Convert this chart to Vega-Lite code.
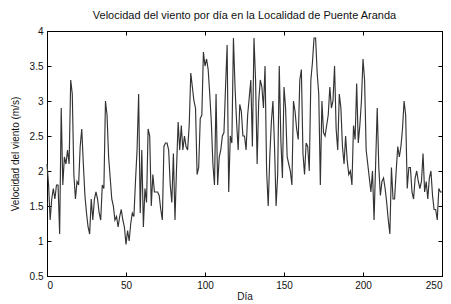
{
  "$schema": "https://vega.github.io/schema/vega-lite/v6.json",
  "width": 395,
  "height": 245,
  "autosize": {"type": "none"},
  "padding": {"left": 47, "top": 31, "right": 9, "bottom": 28},
  "background": "white",
  "title": {"text": "Velocidad del viento por día en la Localidad de Puente Aranda", "fontSize": 11, "fontWeight": "normal", "font": "Liberation Sans", "color": "#111", "offset": 5, "anchor": "middle"},
  "config": {
    "view": {"stroke": "#000", "strokeWidth": 1},
    "axis": {"grid": false, "domainColor": "#000", "tickColor": "#000", "tickSize": -4, "labelPadding": 8, "labelFont": "Liberation Sans", "labelFontSize": 10, "labelColor": "#111", "titleFont": "Liberation Sans", "titleFontSize": 10, "titleFontWeight": "normal", "titleColor": "#111"}
  },
  "data": {"values": [
    {"dia":0,"v":2.1},{"dia":1,"v":1.8},{"dia":2,"v":1.3},{"dia":3,"v":1.6},{"dia":4,"v":1.75},{"dia":5,"v":1.6},{"dia":6,"v":1.8},{"dia":7,"v":1.8},{"dia":8,"v":1.1},{"dia":9,"v":2.9},
    {"dia":10,"v":1.8},{"dia":11,"v":2.2},{"dia":12,"v":2.1},{"dia":13,"v":2.3},{"dia":14,"v":2.1},{"dia":15,"v":3.3},{"dia":16,"v":3.1},{"dia":17,"v":1.95},{"dia":18,"v":1.6},{"dia":19,"v":1.85},
    {"dia":20,"v":1.8},{"dia":21,"v":2.35},{"dia":22,"v":2.6},{"dia":23,"v":2.1},{"dia":24,"v":1.65},{"dia":25,"v":1.4},{"dia":26,"v":1.2},{"dia":27,"v":1.1},{"dia":28,"v":1.6},{"dia":29,"v":1.3},
    {"dia":30,"v":1.6},{"dia":31,"v":1.7},{"dia":32,"v":1.6},{"dia":33,"v":1.4},{"dia":34,"v":1.3},{"dia":35,"v":1.8},{"dia":36,"v":1.75},{"dia":37,"v":3.0},{"dia":38,"v":2.8},{"dia":39,"v":2.2},
    {"dia":40,"v":1.9},{"dia":41,"v":1.6},{"dia":42,"v":1.5},{"dia":43,"v":1.3},{"dia":44,"v":1.35},{"dia":45,"v":1.2},{"dia":46,"v":1.35},{"dia":47,"v":1.45},{"dia":48,"v":1.3},{"dia":49,"v":1.2},
    {"dia":50,"v":0.95},{"dia":51,"v":1.15},{"dia":52,"v":1.0},{"dia":53,"v":1.25},{"dia":54,"v":1.4},{"dia":55,"v":1.35},{"dia":56,"v":1.85},{"dia":57,"v":2.3},{"dia":58,"v":3.1},{"dia":59,"v":1.4},
    {"dia":60,"v":2.3},{"dia":61,"v":1.2},{"dia":62,"v":1.75},{"dia":63,"v":1.55},{"dia":64,"v":2.6},{"dia":65,"v":2.5},{"dia":66,"v":1.5},{"dia":67,"v":1.95},{"dia":68,"v":1.7},{"dia":69,"v":1.7},
    {"dia":70,"v":1.7},{"dia":71,"v":1.65},{"dia":72,"v":1.45},{"dia":73,"v":1.3},{"dia":74,"v":2.35},{"dia":75,"v":2.4},{"dia":76,"v":2.4},{"dia":77,"v":2.3},{"dia":78,"v":1.8},{"dia":79,"v":1.55},
    {"dia":80,"v":2.25},{"dia":81,"v":1.3},{"dia":82,"v":2.05},{"dia":83,"v":2.7},{"dia":84,"v":2.3},{"dia":85,"v":2.65},{"dia":86,"v":2.3},{"dia":87,"v":2.5},{"dia":88,"v":2.35},{"dia":89,"v":2.3},
    {"dia":90,"v":2.65},{"dia":91,"v":3.4},{"dia":92,"v":3.2},{"dia":93,"v":3.0},{"dia":94,"v":2.9},{"dia":95,"v":1.95},{"dia":96,"v":2.05},{"dia":97,"v":2.75},{"dia":98,"v":2.8},{"dia":99,"v":3.7},
    {"dia":100,"v":3.5},{"dia":101,"v":3.6},{"dia":102,"v":3.45},{"dia":103,"v":3.1},{"dia":104,"v":2.7},{"dia":105,"v":2.1},{"dia":106,"v":1.8},{"dia":107,"v":3.1},{"dia":108,"v":1.8},{"dia":109,"v":2.2},
    {"dia":110,"v":2.3},{"dia":111,"v":2.5},{"dia":112,"v":2.55},{"dia":113,"v":3.2},{"dia":114,"v":3.8},{"dia":115,"v":1.7},{"dia":116,"v":2.5},{"dia":117,"v":2.4},{"dia":118,"v":3.9},{"dia":119,"v":3.2},
    {"dia":120,"v":2.7},{"dia":121,"v":2.3},{"dia":122,"v":2.95},{"dia":123,"v":2.85},{"dia":124,"v":2.5},{"dia":125,"v":2.5},{"dia":126,"v":2.3},{"dia":127,"v":2.8},{"dia":128,"v":3.05},{"dia":129,"v":3.3},
    {"dia":130,"v":2.35},{"dia":131,"v":3.9},{"dia":132,"v":3.3},{"dia":133,"v":2.1},{"dia":134,"v":3.0},{"dia":135,"v":3.3},{"dia":136,"v":3.2},{"dia":137,"v":2.9},{"dia":138,"v":3.5},{"dia":139,"v":2.0},
    {"dia":140,"v":1.5},{"dia":141,"v":2.2},{"dia":142,"v":2.7},{"dia":143,"v":3.0},{"dia":144,"v":2.35},{"dia":145,"v":1.5},{"dia":146,"v":1.95},{"dia":147,"v":3.5},{"dia":148,"v":2.45},{"dia":149,"v":1.9},
    {"dia":150,"v":3.2},{"dia":151,"v":2.9},{"dia":152,"v":2.2},{"dia":153,"v":2.1},{"dia":154,"v":2.0},{"dia":155,"v":1.8},{"dia":156,"v":3.0},{"dia":157,"v":2.85},{"dia":158,"v":2.6},{"dia":159,"v":2.45},
    {"dia":160,"v":3.3},{"dia":161,"v":3.45},{"dia":162,"v":2.25},{"dia":163,"v":1.95},{"dia":164,"v":2.4},{"dia":165,"v":2.35},{"dia":166,"v":2.0},{"dia":167,"v":3.3},{"dia":168,"v":3.55},{"dia":169,"v":3.9},
    {"dia":170,"v":3.9},{"dia":171,"v":3.4},{"dia":172,"v":3.1},{"dia":173,"v":1.8},{"dia":174,"v":3.0},{"dia":175,"v":2.55},{"dia":176,"v":2.5},{"dia":177,"v":2.65},{"dia":178,"v":2.8},{"dia":179,"v":3.2},
    {"dia":180,"v":2.9},{"dia":181,"v":3.0},{"dia":182,"v":3.5},{"dia":183,"v":2.6},{"dia":184,"v":2.3},{"dia":185,"v":3.1},{"dia":186,"v":2.9},{"dia":187,"v":2.35},{"dia":188,"v":2.1},{"dia":189,"v":2.5},
    {"dia":190,"v":2.15},{"dia":191,"v":1.95},{"dia":192,"v":2.0},{"dia":193,"v":1.8},{"dia":194,"v":2.65},{"dia":195,"v":2.45},{"dia":196,"v":3.25},{"dia":197,"v":2.4},{"dia":198,"v":2.65},{"dia":199,"v":3.0},
    {"dia":200,"v":3.6},{"dia":201,"v":3.3},{"dia":202,"v":2.3},{"dia":203,"v":2.1},{"dia":204,"v":1.9},{"dia":205,"v":1.7},{"dia":206,"v":2.0},{"dia":207,"v":1.3},{"dia":208,"v":2.1},{"dia":209,"v":2.9},
    {"dia":210,"v":2.05},{"dia":211,"v":1.65},{"dia":212,"v":1.85},{"dia":213,"v":1.9},{"dia":214,"v":1.75},{"dia":215,"v":1.55},{"dia":216,"v":1.3},{"dia":217,"v":1.1},{"dia":218,"v":2.05},{"dia":219,"v":1.6},
    {"dia":220,"v":1.6},{"dia":221,"v":2.0},{"dia":222,"v":2.35},{"dia":223,"v":2.2},{"dia":224,"v":2.35},{"dia":225,"v":2.6},{"dia":226,"v":3.0},{"dia":227,"v":2.8},{"dia":228,"v":1.75},{"dia":229,"v":2.05},
    {"dia":230,"v":2.05},{"dia":231,"v":1.7},{"dia":232,"v":1.6},{"dia":233,"v":1.9},{"dia":234,"v":2.0},{"dia":235,"v":1.85},{"dia":236,"v":1.75},{"dia":237,"v":1.85},{"dia":238,"v":2.25},{"dia":239,"v":1.7},
    {"dia":240,"v":1.85},{"dia":241,"v":1.6},{"dia":242,"v":1.9},{"dia":243,"v":2.0},{"dia":244,"v":1.65},{"dia":245,"v":1.45},{"dia":246,"v":1.45},{"dia":247,"v":1.3},{"dia":248,"v":1.75},{"dia":249,"v":1.7},
    {"dia":250,"v":1.7}
  ]},
  "layer": [
    {
      "mark": {"type": "line", "color": "#333333", "strokeWidth": 1.15},
      "encoding": {
        "x": {"field": "dia", "type": "quantitative", "scale": {"domain": [0, 250], "nice": false, "zero": false}, "axis": {"title": "Día", "values": [0, 50, 100, 150, 200, 250], "titlePadding": 1}},
        "y": {"field": "v", "type": "quantitative", "scale": {"domain": [0.5, 4], "nice": false, "zero": false}, "axis": {"title": "Velocidad del viento (m/s)", "values": [0.5, 1, 1.5, 2, 2.5, 3, 3.5, 4], "format": "~g", "titlePadding": 9}}
      }
    },
    {
      "mark": {"type": "line", "opacity": 0},
      "encoding": {
        "x": {"field": "dia", "type": "quantitative", "axis": {"orient": "top", "labels": false, "title": null, "values": [0, 50, 100, 150, 200, 250]}},
        "y": {"field": "v", "type": "quantitative", "axis": {"orient": "right", "labels": false, "title": null, "values": [0.5, 1, 1.5, 2, 2.5, 3, 3.5, 4]}}
      }
    }
  ],
  "resolve": {"axis": {"x": "independent", "y": "independent"}}
}
